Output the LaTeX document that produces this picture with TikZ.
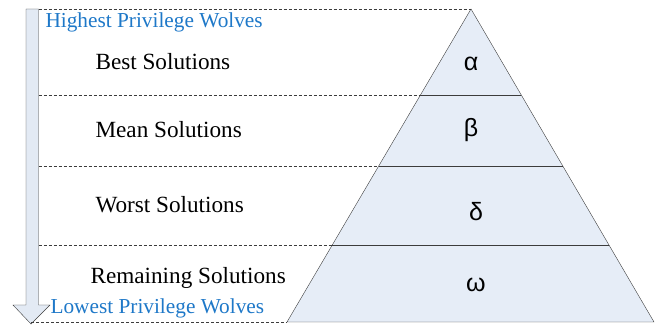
\documentclass[tikz,border=0pt]{standalone}
\usepackage{fontspec}
\setmainfont{Liberation Serif}
\newfontfamily\greekfont{Liberation Sans}
\usetikzlibrary{positioning, calc}
\definecolor{wolfblue}{RGB}{30, 120, 200}
\definecolor{layerfill}{RGB}{230, 237, 247}
\definecolor{arrowfill}{RGB}{227, 234, 244}
\definecolor{edgegray}{RGB}{60, 60, 60}

\begin{document}
\begin{tikzpicture}[
      x=1pt, y=1pt,
      level/.style={font=\fontsize{23.2}{26}\selectfont, anchor=west},
      rank/.style={font=\fontsize{21.3}{24}\selectfont, text=wolfblue, anchor=west},
      letter/.style={font=\greekfont\fontsize{25}{27}\selectfont},
      sep/.style={dash pattern=on 3pt off 2pt, edgegray, thin},
      layer/.style={edgegray, thin}
    ]
      \useasboundingbox (0,0) rectangle (662,329);

      % pyramid corners
      \coordinate (apex) at (471,320);
      \coordinate (bl) at (287,7);
      \coordinate (br) at (654,7);
      \filldraw[fill=layerfill, draw=edgegray, thin] (apex) -- (bl) -- (br) -- cycle;

      % layer boundaries
      \coordinate (L1) at (420.4,234); \coordinate (R1) at (521.3,234);
      \coordinate (L2) at (378.7,163); \coordinate (R2) at (562.8,163);
      \coordinate (L3) at (332.2,84);  \coordinate (R3) at (609.0,84);
      \draw[layer] (L1) -- (R1);
      \draw[layer] (L2) -- (R2);
      \draw[layer] (L3) -- (R3);

      % privilege arrow
      \filldraw[fill=arrowfill, draw=edgegray, thin]
        (26,320) -- (38.5,320) -- (38.5,24) -- (50,24) -- (31,5) -- (13,24) -- (26,24) -- cycle;
      \coordinate (S0) at (38.5,320);
      \coordinate (S1) at (38.5,234);
      \coordinate (S2) at (38.5,163);
      \coordinate (S3) at (38.5,84);
      \coordinate (S4) at (31,7);

      \draw[sep] (S0) -- (apex);
      \draw[sep] (S1) -- (L1);
      \draw[sep] (S2) -- (L2);
      \draw[sep] (S3) -- (L3);
      \draw[sep] (S4) -- (bl);

      % labels
      \node[rank] (high) at (42,307) {Highest Privilege Wolves};
      \node[level] (best) at (92,267) {Best Solutions};
      \node[level] (mean) at (92,199) {Mean Solutions};
      \node[level] (worst) at (92,124) {Worst Solutions};
      \node[level] (rest) at (87,51) {Remaining Solutions};
      \node[rank] (low) at (47,21) {Lowest Privilege Wolves};

      \node[letter] (alpha) at (471,265) {α};
      \node[letter] (beta) at (471,199) {β};
      \node[letter] (delta) at (476,117) {δ};
      \node[letter] (omega) at (476,44) {ω};
    \end{tikzpicture}
\end{document}
